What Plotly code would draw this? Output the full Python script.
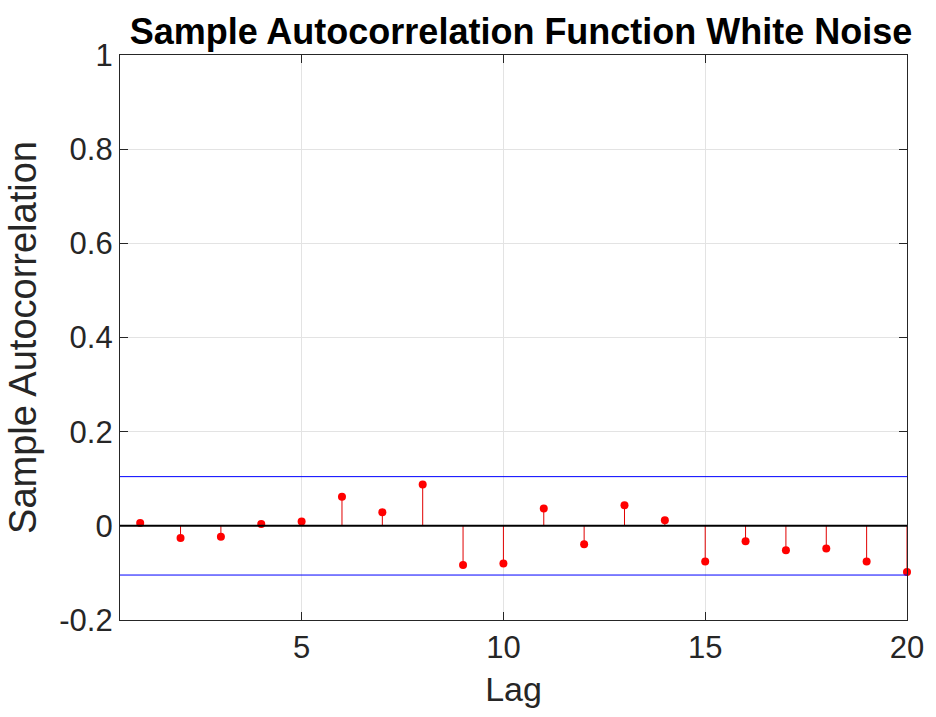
import plotly.graph_objects as go

lags = list(range(1, 21))
acf_values = [0.006, -0.026, -0.023, 0.004, 0.009, 0.062, 0.029, 0.088, -0.083, -0.080,
              0.037, -0.039, 0.0435, 0.012, -0.076, -0.033, -0.052, -0.048, -0.076, -0.098]
conf_bound = 0.1045
x_ticks = [5, 10, 15, 20]
y_ticks = [-0.2, 0, 0.2, 0.4, 0.6, 0.8, 1]
y_tick_labels = ["-0.2", "0", "0.2", "0.4", "0.6", "0.8", "1"]

stem_x, stem_y = [], []
for lag, v in zip(lags, acf_values):
    stem_x += [lag, lag, None]
    stem_y += [0, v, None]

fig = go.Figure()
fig.add_hline(y=conf_bound, line=dict(color="#0000ff", width=1))
fig.add_hline(y=-conf_bound, line=dict(color="#0000ff", width=1))
fig.add_hline(y=0, line=dict(color="#000000", width=2))
fig.add_trace(go.Scatter(x=stem_x, y=stem_y, mode="lines",
                         line=dict(color="#e00000", width=1), hoverinfo="skip",
                         showlegend=False, cliponaxis=False))
fig.add_trace(go.Scatter(x=lags, y=acf_values, mode="markers",
                         marker=dict(color="#ff0000", size=8),
                         showlegend=False, cliponaxis=False))

font_family = "Liberation Sans, Arial, sans-serif"
fig.update_layout(
    width=936, height=717,
    margin=dict(l=120, r=24, t=55, b=97),
    paper_bgcolor="white", plot_bgcolor="white",
    font=dict(family=font_family, color="#262626"),
    title=dict(text="<b>Sample Autocorrelation Function White Noise</b>",
               x=521 / 936, xanchor="center", y=1 - 31 / 717, yanchor="middle",
               font=dict(size=36, color="#000000", family=font_family)),
)
axis_common = dict(showline=True, linecolor="#262626", linewidth=1.3, mirror="allticks",
                   ticks="inside", ticklen=8, tickcolor="#262626",
                   showgrid=True, gridcolor="#e3e3e3", gridwidth=1, zeroline=False,
                   tickfont=dict(size=31, color="#262626"))
fig.update_xaxes(range=[0.5, 20], tickvals=x_ticks,
                 title=dict(text="Lag", font=dict(size=34, color="#262626"), standoff=12),
                 **axis_common)
fig.update_yaxes(range=[-0.2, 1], tickvals=y_ticks, ticktext=y_tick_labels,
                 title=dict(text="Sample Autocorrelation", font=dict(size=38, color="#262626"), standoff=10),
                 **axis_common)

fig.write_html("out.html")
